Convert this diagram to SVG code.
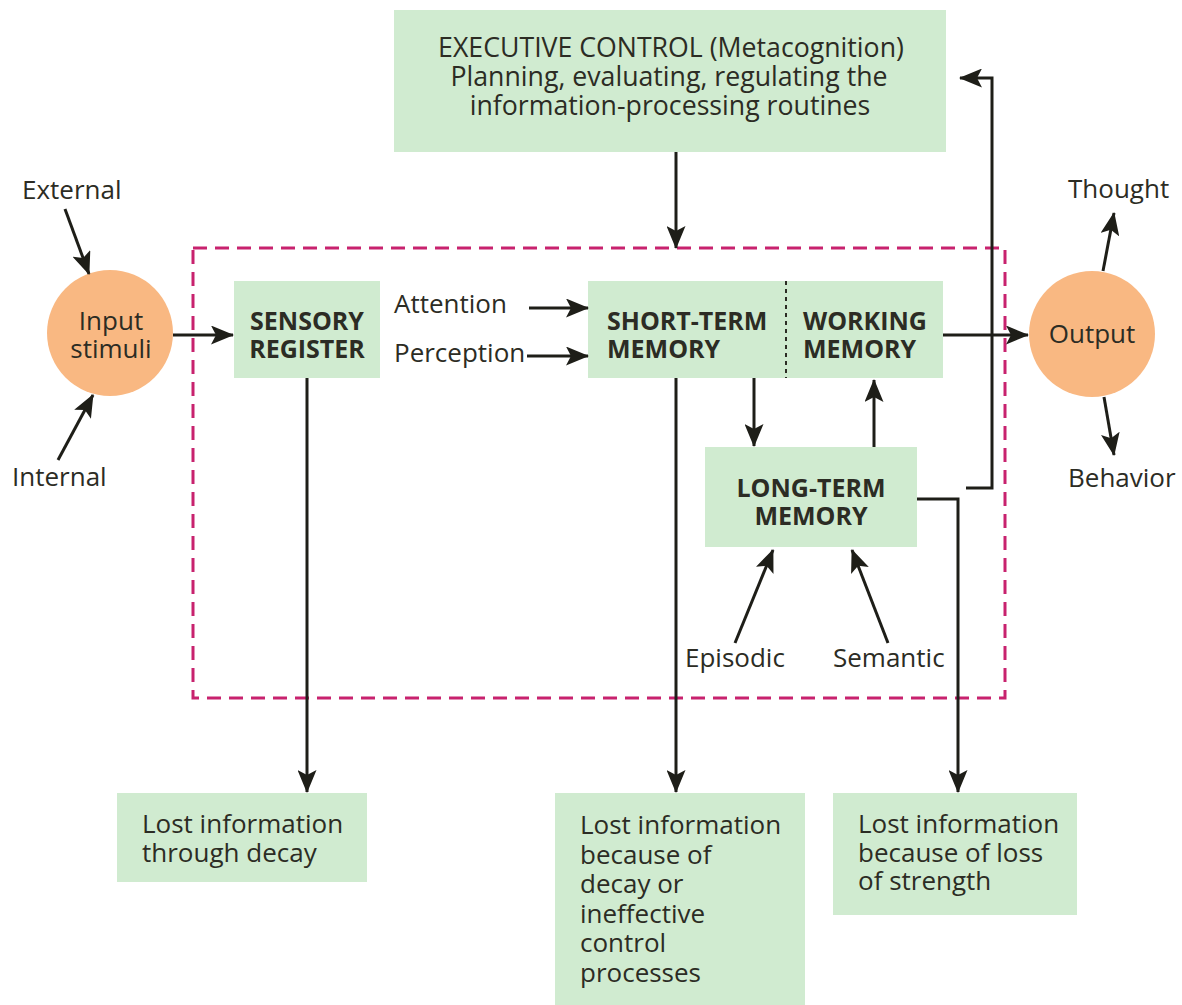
<svg xmlns="http://www.w3.org/2000/svg" width="1182" height="1005" viewBox="0 0 1182 1005">
  <style>
    .box { fill: #d0ebd0; }
    .circ { fill: #f9b882; }
    .t { font-family: "Open Sans", "Noto Sans", sans-serif; font-size: 26px; fill: #2c2c24; }
    .x { font-size: 26.7px; }
    .b { font-family: "Open Sans", "Noto Sans", sans-serif; font-size: 25px; font-weight: bold; fill: #2c2c24; }
    .mid { text-anchor: middle; }
    .ln { fill: none; stroke: #1e1e18; stroke-width: 3; }
    .arr { marker-end: url(#head); }
  </style>
  <defs>
    <marker id="head" markerUnits="userSpaceOnUse" markerWidth="23" markerHeight="19" refX="22" refY="9.5" orient="auto" viewBox="0 0 23 19">
      <path d="M0,0 L23,9.5 L0,19 L5,9.5 Z" fill="#1e1e18"/>
    </marker>
  </defs>
  <rect width="1182" height="1005" fill="#ffffff"/>

  <!-- boundary of the processing system -->
  <rect id="system-boundary" x="193" y="248" width="812" height="450" fill="none" stroke="#c8226e" stroke-width="3" stroke-dasharray="14 8"/>

  <g id="executive-control">
    <rect class="box" x="394" y="10" width="552" height="142"/>
    <text class="t x mid" x="671" y="57">EXECUTIVE CONTROL (Metacognition)</text>
    <text class="t x mid" x="669" y="86">Planning, evaluating, regulating the</text>
    <text class="t x mid" x="670" y="115">information-processing routines</text>
  </g>

  <g id="input-stimuli">
    <circle class="circ" cx="110" cy="333" r="63"/>
    <text class="t mid" x="111" y="330">Input</text>
    <text class="t mid" x="111" y="358">stimuli</text>
  </g>

  <g id="output">
    <circle class="circ" cx="1092" cy="334" r="63"/>
    <text class="t mid" x="1092" y="343">Output</text>
  </g>

  <g id="sensory-register">
    <rect class="box" x="234" y="281" width="146" height="97"/>
    <text class="b mid" x="307" y="330">SENSORY</text>
    <text class="b mid" x="307" y="358">REGISTER</text>
  </g>

  <g id="short-term-working-memory">
    <rect class="box" x="588" y="281" width="355" height="97"/>
    <line x1="786" y1="281" x2="786" y2="378" stroke="#2c2c24" stroke-width="2" stroke-dasharray="4 4"/>
    <text class="b" x="607" y="330">SHORT-TERM</text>
    <text class="b" x="607" y="358">MEMORY</text>
    <text class="b" x="803" y="330">WORKING</text>
    <text class="b" x="803" y="358">MEMORY</text>
  </g>

  <g id="long-term-memory">
    <rect class="box" x="705" y="447" width="212" height="100"/>
    <text class="b mid" x="811" y="497">LONG-TERM</text>
    <text class="b mid" x="811" y="525">MEMORY</text>
  </g>

  <g id="lost-decay">
    <rect class="box" x="117" y="793" width="250" height="89"/>
    <text class="t" x="142" y="833">Lost information</text>
    <text class="t" x="142" y="862">through decay</text>
  </g>

  <g id="lost-control">
    <rect class="box" x="555" y="793" width="250" height="212"/>
    <text class="t" x="580" y="834">Lost information</text>
    <text class="t" x="580" y="864">because of</text>
    <text class="t" x="580" y="893">decay or</text>
    <text class="t" x="580" y="923">ineffective</text>
    <text class="t" x="580" y="952">control</text>
    <text class="t" x="580" y="982">processes</text>
  </g>

  <g id="lost-strength">
    <rect class="box" x="833" y="793" width="244" height="122"/>
    <text class="t" x="858" y="833">Lost information</text>
    <text class="t" x="858" y="862">because of loss</text>
    <text class="t" x="858" y="890">of strength</text>
  </g>

  <g id="labels">
    <text class="t" x="22" y="199">External</text>
    <text class="t" x="12" y="486">Internal</text>
    <text class="t" x="394" y="313">Attention</text>
    <text class="t" x="394" y="362">Perception</text>
    <text class="t" x="685" y="667">Episodic</text>
    <text class="t" x="833" y="667">Semantic</text>
    <text class="t" x="1068" y="198">Thought</text>
    <text class="t" x="1068" y="487">Behavior</text>
  </g>

  <g id="connectors">
    <line class="ln arr" x1="65" y1="209" x2="89" y2="274"/>
    <line class="ln arr" x1="58" y1="460" x2="93" y2="395"/>
    <line class="ln arr" x1="173" y1="335" x2="233" y2="335"/>
    <line class="ln arr" x1="529" y1="308" x2="588" y2="308"/>
    <line class="ln arr" x1="527" y1="356" x2="588" y2="356"/>
    <line class="ln arr" x1="676" y1="152" x2="676" y2="248"/>
    <line class="ln arr" x1="943" y1="335" x2="1028" y2="335"/>
    <line class="ln arr" x1="754" y1="378" x2="754" y2="446"/>
    <line class="ln arr" x1="874" y1="447" x2="874" y2="380"/>
    <line class="ln arr" x1="735" y1="643" x2="773" y2="550"/>
    <line class="ln arr" x1="888" y1="643" x2="852" y2="550"/>
    <line class="ln arr" x1="1103" y1="271" x2="1114" y2="213"/>
    <line class="ln arr" x1="1104" y1="397" x2="1114" y2="455"/>
    <line class="ln arr" x1="307" y1="378" x2="307" y2="792"/>
    <line class="ln arr" x1="676" y1="378" x2="676" y2="792"/>
    <polyline class="ln arr" points="917,499 958,499 958,792"/>
    <polyline class="ln arr" points="966,488 992,488 992,78 960,78"/>
  </g>
</svg>
